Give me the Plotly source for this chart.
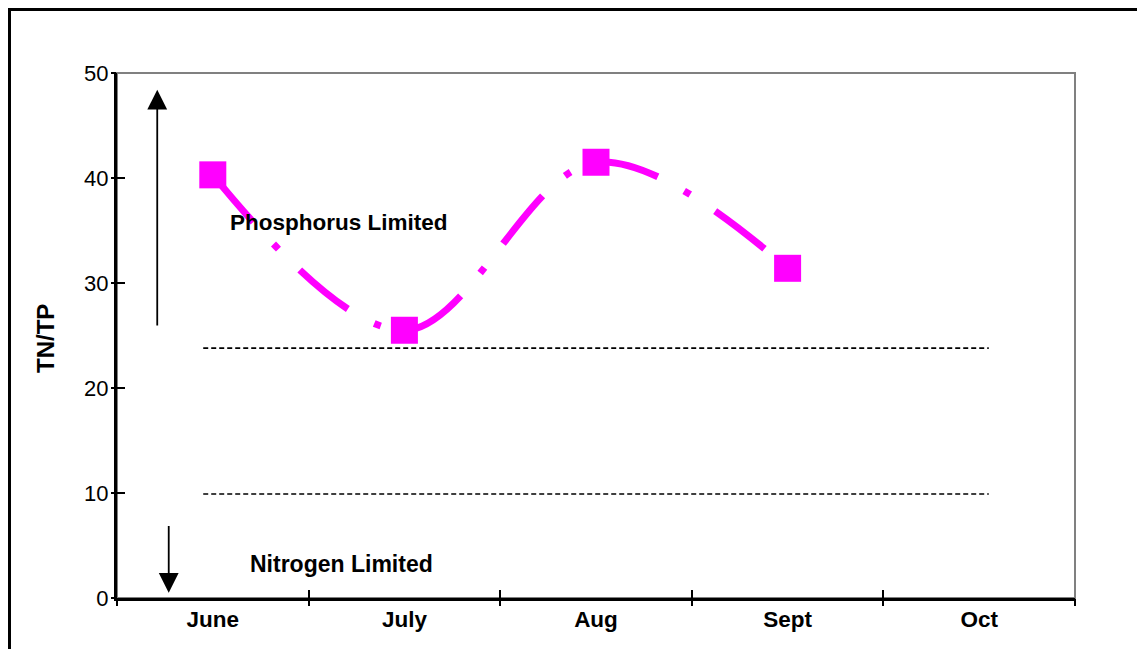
import plotly.graph_objects as go

months = ["June", "July", "Aug", "Sept", "Oct"]
tn_tp = [40.3, 25.5, 41.5, 31.4]
thresholds = [23.8, 9.9]
threshold_span = [-0.05, 4.05]
y_ticks = [0, 10, 20, 30, 40, 50]

FONT = "Liberation Sans, Arial, sans-serif"
x_idx = list(range(len(months)))
x_bounds = [i - 0.5 for i in range(len(months) + 1)]

# page has an 8px body offset; plot area in page coords: x 117..1075, y 73..598
L, T, PW, PH = 109, 65, 958, 525

fig = go.Figure()

for t in thresholds:
    fig.add_trace(go.Scatter(
        x=threshold_span, y=[t, t], mode="lines",
        line=dict(color="black", width=1.6, dash="5px,3px"),
        hoverinfo="skip", showlegend=False))

fig.add_trace(go.Scatter(
    x=x_idx[:len(tn_tp)], y=tn_tp, mode="lines+markers",
    line=dict(color="#ff00ff", width=7, shape="spline", smoothing=1.0,
              dash="62px,30px,7px,30px"),
    marker=dict(symbol="square", size=27, color="#ff00ff"),
    showlegend=False))

# invisible traces so the overlay axes are drawn
fig.add_trace(go.Scatter(x=[None], y=[None], xaxis="x2", yaxis="y2",
                         showlegend=False, hoverinfo="skip"))
fig.add_trace(go.Scatter(x=[None], y=[None], xaxis="x3", yaxis="y",
                         showlegend=False, hoverinfo="skip"))

# outer frame (as close to page edge as the figure allows) and plot frame
fig.add_shape(type="rect", xref="paper", yref="paper",
              x0=(1.5 - L) / PW, x1=1.2,
              y0=-0.2, y1=(T + PH - 1.5) / PH,
              line=dict(color="black", width=3),
              fillcolor="rgba(0,0,0,0)", layer="below")
fig.add_shape(type="rect", xref="paper", yref="paper", x0=0, x1=1,
              y0=0, y1=1, line=dict(color="#808080", width=2),
              fillcolor="rgba(0,0,0,0)", layer="below")

# arrows
fig.add_annotation(x=-0.29, y=48.4, ax=-0.29, ay=25.8, xref="x", yref="y",
                   axref="x", ayref="y", text="", showarrow=True,
                   arrowhead=2, arrowsize=2.2, arrowwidth=1.8, arrowcolor="black")
fig.add_annotation(x=-0.23, y=0.5, ax=-0.23, ay=7.0, xref="x", yref="y",
                   axref="x", ayref="y", text="", showarrow=True,
                   arrowhead=2, arrowsize=2.2, arrowwidth=1.8, arrowcolor="black")

fig.add_annotation(x=0.66, y=35.8, xref="x", yref="y", text="<b>Phosphorus Limited</b>",
                   showarrow=False, font=dict(family=FONT, size=22.5, color="black"))
fig.add_annotation(x=0.67, y=3.2, xref="x", yref="y", text="<b>Nitrogen Limited</b>",
                   showarrow=False, font=dict(family=FONT, size=23, color="black"))
fig.add_annotation(x=(46 - 117) / PW, y=(598 - 339) / PH, xref="paper", yref="paper",
                   xanchor="center", yanchor="middle",
                   text="<b>TN/TP</b>", textangle=-90, showarrow=False,
                   font=dict(family=FONT, size=24, color="black"))

tick_common = dict(tickwidth=2, tickcolor="black", showgrid=False, zeroline=False)

fig.update_layout(
    width=1145, height=649,
    margin=dict(l=L, r=1145 - L - PW, t=T, b=649 - T - PH),
    paper_bgcolor="white", plot_bgcolor="white",
    font=dict(family=FONT, color="black"),
    # main axes: lines + inward half of the crossing ticks
    xaxis=dict(range=[-0.5, 4.5], tickvals=x_bounds, ticks="inside", ticklen=8,
               showticklabels=False, showline=True, linecolor="black", linewidth=3,
               **tick_common),
    yaxis=dict(range=[0, 50], tickvals=y_ticks, ticks="inside", ticklen=8,
               showline=True, linecolor="black", linewidth=3,
               tickfont=dict(size=22), ticklabelstandoff=1, **tick_common),
    # outward half of the crossing ticks
    xaxis2=dict(overlaying="x", anchor="y", side="bottom", range=[-0.5, 4.5],
                tickvals=x_bounds, ticks="outside", ticklen=7,
                showticklabels=False, showline=False, **tick_common),
    yaxis2=dict(overlaying="y", anchor="x", side="left", range=[0, 50],
                tickvals=y_ticks, ticks="outside", ticklen=5,
                showticklabels=False, showline=False, **tick_common),
    # month labels centred in their categories
    xaxis3=dict(overlaying="x", anchor="y", side="bottom", range=[-0.5, 4.5],
                tickvals=x_idx, ticktext=[f"<b>{m}</b>" for m in months], ticks="",
                tickfont=dict(size=22.5), ticklabelstandoff=5,
                showline=False, showgrid=False, zeroline=False),
)

fig.write_html("out.html")
